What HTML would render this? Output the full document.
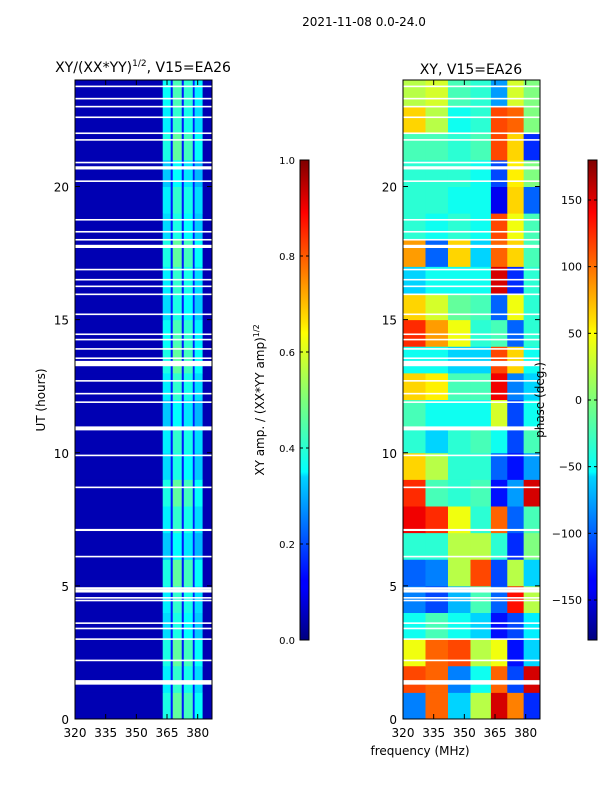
<!DOCTYPE html>
<html><head><meta charset="utf-8"><style>
body{margin:0;background:#fff;font-family:"DejaVu Sans",sans-serif}
svg{display:block}
text{font-family:"DejaVu Sans","Liberation Sans",sans-serif}
</style></head><body>
<svg id="c" width="600" height="800" xmlns="http://www.w3.org/2000/svg">
<defs>
<linearGradient id="jet" x1="0" y1="1" x2="0" y2="0">
<stop offset="0" stop-color="#00007f"/><stop offset="0.11" stop-color="#0000ff"/>
<stop offset="0.125" stop-color="#0000ff"/><stop offset="0.34" stop-color="#00d4ff"/>
<stop offset="0.35" stop-color="#0ff"/><stop offset="0.5" stop-color="#7dff7a"/>
<stop offset="0.64" stop-color="#ff0"/><stop offset="0.66" stop-color="#ffe600"/>
<stop offset="0.89" stop-color="#f00"/><stop offset="1" stop-color="#7f0000"/>
</linearGradient>
</defs>
<text x="364" y="26" font-size="12" text-anchor="middle">2021-11-08 0.0-24.0</text>
<g id="left"></g>
<g id="right"></g>
<g id="cb"></g>
</svg>
<script>
const freqEdgesL=[320,362.9,366.8,367.8,372.2,373.2,377.6,378.5,382.4,387];
const ampCols=[0.05,0.4,0.15,0.47,0.15,0.44,0.15,0.38,0.05];
const hourAmpScale=[1.0,0.9,1.0,0.85,0.9,1.0,0.8,0.9,1.0,0.85,0.9,0.8,0.9,1.0,0.95,0.85,0.9,1.0,0.85,0.9,0.8,1.0,0.9,0.95];
const freqEdgesR=[320,331,342,353,363,371,379,387];
const phaseGrid=[
[-90,100,-60,20,150,90,-120],
[110,100,-90,-40,100,-110,150],
[40,100,110,20,40,-130,-60],
[-40,-20,-40,-60,-130,-110,-50],
[-90,-110,-70,-20,-100,130,20],
[-100,-90,20,110,-110,20,-60],
[-30,-30,20,20,-30,-120,0],
[140,120,40,-30,100,-100,-20],
[120,-20,-30,-20,-130,-80,150],
[60,20,-30,-30,-100,-130,-80],
[-30,-60,-30,-20,-40,-110,-20],
[-20,-40,-40,-40,30,-110,-40],
[60,50,-20,-20,140,-90,-60],
[-40,-40,-60,-60,110,60,-40],
[120,80,40,-30,-20,-100,-30],
[60,30,-10,-20,-100,40,-30],
[-60,-40,-40,-40,150,-120,-30],
[80,-100,60,-60,100,60,-20],
[-30,-40,-30,-40,110,40,-20],
[-30,-30,-40,-40,-140,60,-100],
[-30,-30,-30,-40,-110,50,0],
[-20,-20,-30,-20,110,60,-120],
[60,20,-40,-30,110,100,0],
[20,30,-20,-30,-80,30,0]];
const gapHours=[24-0.24,23.3,23.0,22.6,22.0,21.75,20.9,20.7,20.2,18.75,18.3,18.0,17.75,16.88,16.5,16.25,15.95,15.2,14.45,14.25,13.9,13.55,13.35,12.7,12.22,11.9,10.95,10.88,9.9,8.7,7.1,6.1,4.9,4.8,4.55,4.45,3.6,3.4,3.0,2.2,1.4,1.35];
const gapThick=[0.06,0.06,0.06,0.06,0.06,0.06,0.06,0.12,0.06,0.06,0.06,0.06,0.12,0.06,0.06,0.06,0.06,0.06,0.06,0.06,0.06,0.06,0.2,0.06,0.06,0.06,0.08,0.08,0.06,0.06,0.08,0.06,0.1,0.1,0.06,0.06,0.06,0.06,0.06,0.06,0.12,0.12];
const xTicks=[320,335,350,365,380];
const yTicks=[0,5,10,15,20];
const ampTicks=[0,0.2,0.4,0.6,0.8,1.0];
const phaseTicks=[-150,-100,-50,0,50,100,150];

const NS="http://www.w3.org/2000/svg";
function el(t,a,p){const e=document.createElementNS(NS,t);for(const k in a)e.setAttribute(k,a[k]);p.appendChild(e);return e;}
function jet(v){v=Math.max(0,Math.min(1,v));
 const r=Math.max(0,Math.min(1,1.5-Math.abs(4*v-3))),g=Math.max(0,Math.min(1,1.5-Math.abs(4*v-2))),b=Math.max(0,Math.min(1,1.5-Math.abs(4*v-1)));
 return `rgb(${Math.round(r*255)},${Math.round(g*255)},${Math.round(b*255)})`;}
const yS=h=>719-(h/24)*639;
const panels=[{g:document.getElementById('left'),x0:75},{g:document.getElementById('right'),x0:403}];
const W=137;
const xS=(x0,f)=>x0+(f-320)/(387-320)*W;

{const g=panels[0].g,x0=75;
for(let h=0;h<24;h++)for(let c=0;c<ampCols.length;c++){
 const v=c%2===0&&c!==0&&c!==8?ampCols[c]:(c===0||c===8?ampCols[c]:ampCols[c]*hourAmpScale[h]);
 const vv=(c%2===1)?ampCols[c]*hourAmpScale[h]:ampCols[c];
 const r=el('rect',{x:xS(x0,freqEdgesL[c]),y:yS(h+1),width:xS(x0,freqEdgesL[c+1])-xS(x0,freqEdgesL[c])+0.5,height:yS(h)-yS(h+1)+0.5,fill:jet(vv)},g);
 
 }}
{const g=panels[1].g,x0=403;
for(let h=0;h<24;h++)for(let c=0;c<7;c++){
 const v=(phaseGrid[h][c]+180)/360;
 const r=el('rect',{x:xS(x0,freqEdgesR[c]),y:yS(h+1),width:xS(x0,freqEdgesR[c+1])-xS(x0,freqEdgesR[c])+0.5,height:yS(h)-yS(h+1)+0.5,fill:jet(v)},g);
 
 }}

panels.forEach((p,i)=>{
 gapHours.forEach((gh,k)=>{
  const r=el('rect',{x:p.x0,y:yS(gh+gapThick[k]/2),width:W,height:Math.max(1.5,yS(gh-gapThick[k]/2)-yS(gh+gapThick[k]/2)),fill:'#fff'},p.g);
  
  });
 el('rect',{x:p.x0,y:80,width:W,height:639,fill:'none',stroke:'#000','stroke-width':1},p.g);
 xTicks.forEach(t=>{const x=xS(p.x0,t);
  el('line',{x1:x,x2:x,y1:719,y2:714,stroke:'#000'},p.g);el('line',{x1:x,x2:x,y1:80,y2:85,stroke:'#000'},p.g);
  const tx=el('text',{x:x,y:737,'font-size':12,'text-anchor':'middle'},p.g);tx.textContent=t;
  
  });
 yTicks.forEach(t=>{const y=yS(t);
  el('line',{x1:p.x0,x2:p.x0+5,y1:y,y2:y,stroke:'#000'},p.g);el('line',{x1:p.x0+W-5,x2:p.x0+W,y1:y,y2:y,stroke:'#000'},p.g);
  const tx=el('text',{x:p.x0-6,y:y+5,'font-size':12,'text-anchor':'end'},p.g);tx.textContent=t;
  
  });
});
const cb=document.getElementById('cb');
[[300,ampTicks,v=>640-v*480,v=>v.toFixed(1)],[588,phaseTicks,v=>400-v*480/360,v=>v<0?'\u2212'+(-v):''+v]].forEach(([x,ts,f,fmt],i)=>{
 const r=el('rect',{x:x,y:160,width:9,height:480,fill:'url(#jet)',stroke:'#000','stroke-width':1},cb);
 
 
 ts.forEach(t=>{const y=f(t);el('line',{x1:x,x2:x+3,y1:y,y2:y,stroke:'#000'},cb);el('line',{x1:x+6,x2:x+9,y1:y,y2:y,stroke:'#000'},cb);
  const tx=el('text',{x:i?582:295,y:y+4,'font-size':i?11:10,'text-anchor':'end'},cb);tx.textContent=fmt(t);
  
  });
});
</script>
<svg style="position:absolute;left:0;top:0" width="600" height="800" xmlns="http://www.w3.org/2000/svg">
<text x="143" y="72" font-size="14" text-anchor="middle">XY/(XX*YY)<tspan font-size="9" dy="-6">1/2</tspan><tspan dy="6">, V15=EA26</tspan></text>
<text x="471" y="74" font-size="14" text-anchor="middle">XY, V15=EA26</text>
<text transform="translate(45,400) rotate(-90)" font-size="12" text-anchor="middle">UT (hours)</text>
<text transform="translate(264,400) rotate(-90)" font-size="12" text-anchor="middle">XY amp. / (XX*YY amp)<tspan font-size="8" dy="-5">1/2</tspan></text>
<text transform="translate(544,400) rotate(-90)" font-size="12" text-anchor="middle">phase (deg.)</text>
<text x="420" y="755" font-size="12" text-anchor="middle">frequency (MHz)</text>
</svg>
</body></html>
